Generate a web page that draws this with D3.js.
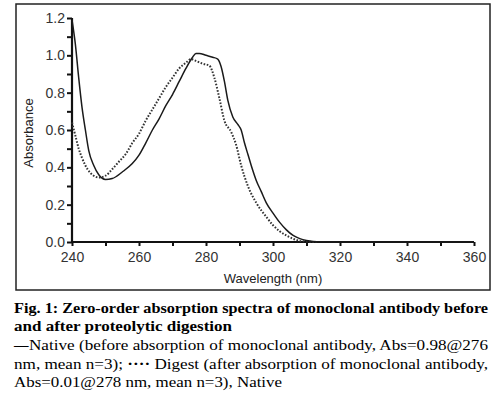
<!DOCTYPE html>
<html>
<head>
<meta charset="utf-8">
<script src="https://cdn.jsdelivr.net/npm/d3@7"></script>
<style>
  body { margin: 0; background: #fff; }
  svg { display: block; }
</style>
</head>
<body>
<script>
// data
var nativeWl = [240, 241, 242, 243, 244, 245, 246.5, 248, 250, 252, 255, 258, 260, 262, 264, 266, 268, 270, 272, 274, 276, 277, 278, 280, 282, 283.5, 284.5, 285.5, 286.5, 288, 289.5, 290.5, 291.5, 292.5, 293.5, 295, 296.5, 298, 300, 302, 304, 306, 308, 310, 312, 315, 320, 340, 360];
var nativeAbs = [1.19, 1.06, 0.88, 0.72, 0.60, 0.49, 0.41, 0.36, 0.335, 0.34, 0.375, 0.42, 0.465, 0.53, 0.60, 0.66, 0.73, 0.79, 0.86, 0.93, 0.99, 1.01, 1.01, 1.0, 0.99, 0.98, 0.94, 0.86, 0.76, 0.67, 0.63, 0.60, 0.53, 0.47, 0.41, 0.33, 0.27, 0.21, 0.155, 0.105, 0.065, 0.035, 0.018, 0.008, 0.003, 0.001, 0, 0, 0];

var digestWl = [240, 241, 242, 243, 244, 245.5, 247, 248, 250, 252, 254, 256, 258, 260, 262, 264, 266, 268, 270, 272, 274, 275.5, 277, 279, 281, 282.5, 284, 285.5, 287.5, 289, 290.5, 292.5, 295, 298, 300, 302, 304, 306, 308, 310, 313];
var digestAbs = [0.64, 0.57, 0.50, 0.45, 0.41, 0.37, 0.35, 0.345, 0.355, 0.39, 0.43, 0.47, 0.53, 0.58, 0.65, 0.71, 0.77, 0.83, 0.88, 0.93, 0.96, 0.98, 0.97, 0.955, 0.945, 0.88, 0.77, 0.65, 0.59, 0.52, 0.41, 0.30, 0.21, 0.135, 0.09, 0.058, 0.035, 0.017, 0.006, 0.002, 0];

var xTicks = [240, 260, 280, 300, 320, 340, 360];
var yTicks = [0.0, 0.2, 0.4, 0.6, 0.8, 1.0, 1.2];

var captionLines = [
  'Fig. 1: Zero-order absorption spectra of monoclonal antibody before',
  'and after proteolytic digestion',
  'Native (before absorption of monoclonal antibody, Abs=0.98@276',
  'nm, mean n=3); ',
  'Abs=0.01@278 nm, mean n=3), Native'
];

var width = 500,
	height = 393;

var svg = d3.select('body')
	.append('svg')
	.attr('width', width)
	.attr('height', height);

// frame round the plot
svg.append('rect')
	.attr('x', 16)
	.attr('y', 4)
	.attr('width', 474)
	.attr('height', 286)
	.attr('fill', 'none')
	.attr('stroke', '#222')
	.attr('stroke-width', 1.5);

var x = d3.scaleLinear().domain([240, 360]).range([72, 474]);
var y = d3.scaleLinear().domain([0, 1.2]).range([242, 18]);

// minor ticks every half step
var xAxis = d3.axisBottom(x)
	.tickValues(d3.range(240, 361, 10))
	.tickSize(4)
	.tickFormat(function(d) { return xTicks.indexOf(d) > -1 ? d : ''; });

var yAxis = d3.axisLeft(y)
	.tickValues(d3.range(0, 13).map(function(i) { return i / 10; }))
	.tickSize(5)
	.tickFormat(function(d) {
		var hit = yTicks.some(function(t) { return Math.abs(t - d) < 1e-6; });
		return hit ? d3.format('.1f')(d) : '';
	});

var gx = svg.append('g')
	.attr('transform', 'translate(0,' + y(0) + ')')
	.call(xAxis);

var gy = svg.append('g')
	.attr('transform', 'translate(' + x(240) + ',0)')
	.call(yAxis);

[gx, gy].forEach(function(g) {
	g.select('.domain').attr('stroke', '#111').attr('stroke-width', 2.2);
	g.selectAll('.tick line').attr('stroke', '#111').attr('stroke-width', 2);
	g.selectAll('.tick text')
		.attr('fill', '#333')
		.style('font-family', 'Liberation Sans, Arial, sans-serif')
		.style('font-size', '14px');
});
gx.select('.domain').attr('d', 'M' + x(240) + ',0H' + x(360));
gy.select('.domain').attr('d', 'M0,' + y(0) + 'V' + y(1.2));
gx.selectAll('.tick text').attr('y', 8).attr('dy', '0.85em');
gy.selectAll('.tick text').attr('x', -7);

// axis titles
svg.append('text')
	.attr('x', 273)
	.attr('y', 283)
	.attr('text-anchor', 'middle')
	.attr('fill', '#222')
	.style('font-family', 'Liberation Sans, Arial, sans-serif')
	.style('font-size', '13px')
	.text('Wavelength (nm)');

svg.append('text')
	.attr('transform', 'translate(33,133) rotate(-90)')
	.attr('text-anchor', 'middle')
	.attr('fill', '#222')
	.style('font-family', 'Liberation Sans, Arial, sans-serif')
	.style('font-size', '13px')
	.text('Absorbance');

var line = d3.line()
	.x(function(d) { return x(d[0]); })
	.y(function(d) { return y(d[1]); })
	.curve(d3.curveMonotoneX);

svg.append('path')
	.datum(d3.zip(digestWl, digestAbs))
	.attr('fill', 'none')
	.attr('stroke', '#333')
	.attr('stroke-width', 2)
	.attr('stroke-dasharray', '1.6,1.6')
	.attr('d', line);

svg.append('path')
	.datum(d3.zip(nativeWl, nativeAbs))
	.attr('fill', 'none')
	.attr('stroke', '#1a1a1a')
	.attr('stroke-width', 1.5)
	.attr('d', line);

// caption under the frame
var cap = svg.append('g')
	.style('font-family', 'Liberation Serif, Times New Roman, serif')
	.style('font-size', '14.5px')
	.attr('fill', '#000');

cap.append('text')
	.attr('x', 14).attr('y', 313)
	.attr('font-weight', 'bold')
	.attr('textLength', 474).attr('lengthAdjust', 'spacingAndGlyphs')
	.text(captionLines[0]);

cap.append('text')
	.attr('x', 14).attr('y', 331)
	.attr('font-weight', 'bold')
	.attr('textLength', 218).attr('lengthAdjust', 'spacingAndGlyphs')
	.text(captionLines[1]);

cap.append('text')
	.attr('x', 14).attr('y', 350)
	.attr('font-weight', 'bold')
	.text('\u2014');
cap.append('text')
	.attr('x', 29).attr('y', 350)
	.attr('textLength', 459).attr('lengthAdjust', 'spacingAndGlyphs')
	.text(captionLines[2]);

var l4 = cap.append('text')
	.attr('x', 14).attr('y', 369)
	.attr('textLength', 474).attr('lengthAdjust', 'spacingAndGlyphs');
l4.append('tspan').text(captionLines[3]);
l4.append('tspan').attr('font-weight', 'bold').text('\u00b7\u00b7\u00b7\u00b7');
l4.append('tspan').text(' Digest (after absorption of monoclonal antibody,');

cap.append('text')
	.attr('x', 14).attr('y', 387)
	.attr('textLength', 268).attr('lengthAdjust', 'spacingAndGlyphs')
	.text(captionLines[4]);
</script>
</body>
</html>
